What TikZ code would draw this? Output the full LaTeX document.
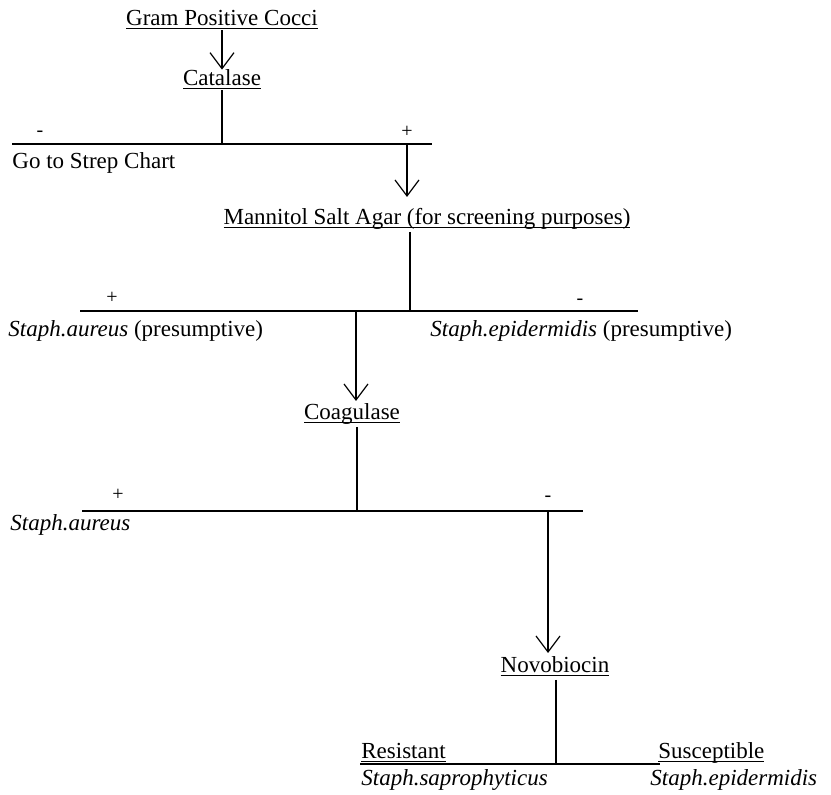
\documentclass[tikz,border=0pt]{standalone}
\usepackage{fontspec}
\setmainfont{Liberation Serif}
\usetikzlibrary{arrows.meta}
\newcommand\myul[1]{\underline{\raisebox{0pt}[\height][0pt]{#1}}}
\begin{document}
\begin{tikzpicture}[x=0.5pt,y=-0.5pt,
  txt/.style={inner sep=0pt,font=\fontsize{11.5}{13}\selectfont},
  sgn/.style={inner sep=0pt,font=\fontsize{10}{12}\selectfont,anchor=base},
  bar/.style={line width=0.9pt},
  stem/.style={line width=0.6pt},
  arr/.style={line width=0.6pt,-{Straight Barb[length=8pt,width=12pt,line width=0.6pt]}}]
\useasboundingbox (0,0) rectangle (831,795);
% level 1
\node[txt,anchor=base] (gpc) at (222,26) {\myul{Gram Positive Cocci}};
\node[txt,anchor=base] (cat) at (222,86) {\myul{Catalase}};
\draw[arr] (gpc.south) -- (cat.north);
\coordinate (b1l) at (12,144);
\coordinate (b1r) at (432,144);
\draw[bar] (b1l) -- (b1r);
\draw[stem] (cat.south) -- (cat.south |- b1l);
\node[sgn] (m1) at (40,137) {-};
\node[sgn] (p1) at (407,138) {+};
\node[txt,anchor=base west] (strep) at (12,169) {Go to Strep Chart};
\coordinate (a1) at (407,197);
\draw[arr] (p1 |- b1l) -- (a1);
% level 2
\node[txt,anchor=base] (msa) at (427,225) {\myul{Mannitol Salt Agar (for screening purposes)}};
\coordinate (b2l) at (80,311);
\coordinate (b2r) at (638,311);
\draw[bar] (b2l) -- (b2r);
\coordinate (s2) at (410,232);
\draw[stem] (s2) -- (s2 |- b2l);
\node[sgn] (p2) at (112,304) {+};
\node[sgn] (m2) at (580,305) {-};
\node[txt,anchor=base west] (sa1) at (8,337) {\textit{Staph.aureus} (presumptive)};
\node[txt,anchor=base west] (se1) at (430,337) {\textit{Staph.epidermidis} (presumptive)};
\node[txt,anchor=base] (coa) at (352,420) {\myul{Coagulase}};
\coordinate (t2) at (356,311);
\coordinate (t2e) at (356,401);
\draw[arr] (t2) -- (t2e);
% level 3
\coordinate (b3l) at (82,511);
\coordinate (b3r) at (583,511);
\draw[bar] (b3l) -- (b3r);
\coordinate (s3) at (357,427);
\draw[stem] (s3) -- (s3 |- b3l);
\node[sgn] (p3) at (118,501) {+};
\node[sgn] (m3) at (548,502) {-};
\node[txt,anchor=base west] (sa2) at (10,531) {\textit{Staph.aureus}};
\node[txt,anchor=base] (nov) at (555,673) {\myul{Novobiocin}};
\coordinate (t3e) at (548,653);
\draw[arr] (m3 |- b3l) -- (t3e);
% level 4
\coordinate (b4l) at (360,764);
\coordinate (b4r) at (660,764);
\draw[bar] (b4l) -- (b4r);
\coordinate (s4) at (556,680);
\draw[stem] (s4) -- (s4 |- b4l);
\node[txt,anchor=base west] (res) at (361,759) {\myul{Resistant}};
\node[txt,anchor=base west] (sus) at (658,759) {\myul{Susceptible}};
\node[txt,anchor=base west] (ssap) at (361,786) {\textit{Staph.saprophyticus}};
\node[txt,anchor=base west] (sepi) at (650,786) {\textit{Staph.epidermidis}};
\end{tikzpicture}
\end{document}
